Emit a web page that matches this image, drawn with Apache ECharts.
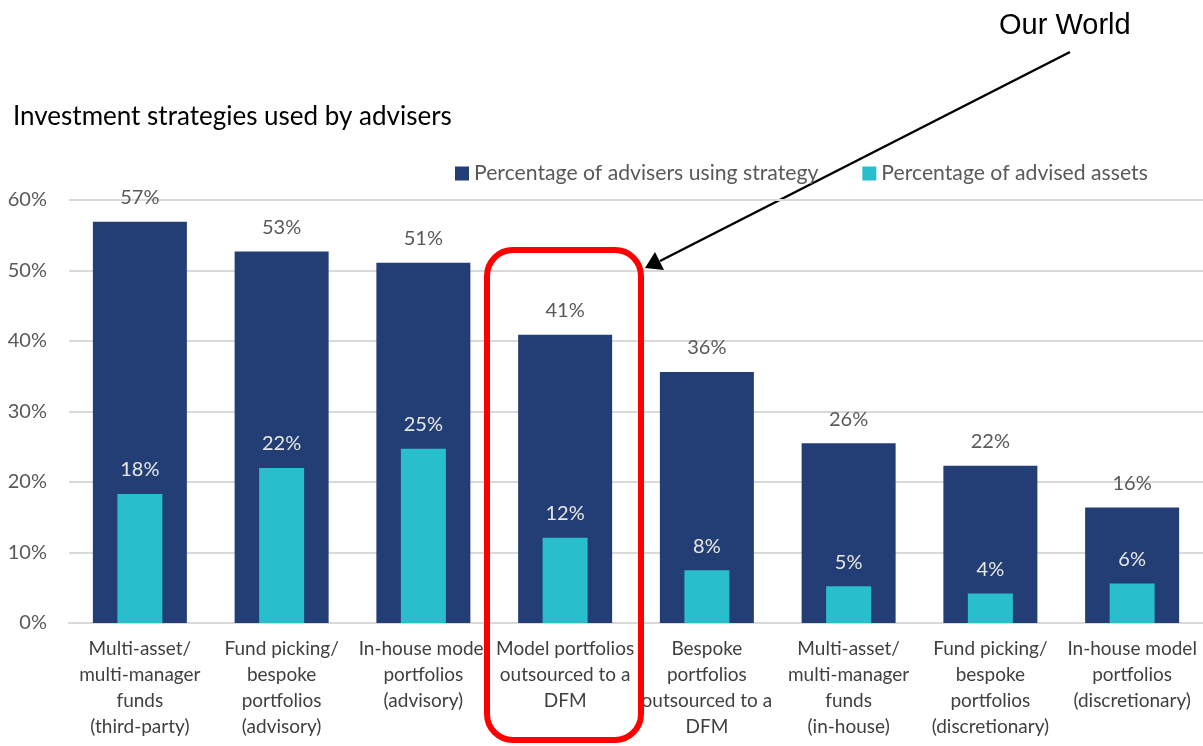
<!DOCTYPE html>
<html>
<head>
<meta charset="utf-8">
<script src="https://cdn.jsdelivr.net/npm/echarts@6/dist/echarts.min.js"></script>
<style>
html,body{margin:0;padding:0;background:#fff;}
#chart{width:1203px;height:746px;}
</style>
</head>
<body>
<div id="chart"></div>
<script>
const categories = [
  "Multi-asset/\nmulti-manager\nfunds\n(third-party)",
  "Fund picking/\nbespoke\nportfolios\n(advisory)",
  "In-house model\nportfolios\n(advisory)",
  "Model portfolios\noutsourced to a\nDFM",
  "Bespoke\nportfolios\noutsourced to a\nDFM",
  "Multi-asset/\nmulti-manager\nfunds\n(in-house)",
  "Fund picking/\nbespoke\nportfolios\n(discretionary)",
  "In-house model\nportfolios\n(discretionary)"
];
const advisersUsing = [56.9, 52.7, 51.1, 40.9, 35.6, 25.5, 22.3, 16.4];
const advisedAssets = [18.3, 22.0, 24.7, 12.1, 7.5, 5.2, 4.2, 5.6];
const seriesNames = ["Percentage of advisers using strategy", "Percentage of advised assets"];
const yTicks = [0, 10, 20, 30, 40, 50, 60];

const FONT = "Lato";
const chart = echarts.init(document.getElementById('chart'), null, {renderer: 'canvas'});
const pct = p => Math.round(p.value) + '%';

chart.setOption({
  animation: false,
  textStyle: {fontFamily: FONT},
  title: {
    text: "Investment strategies used by advisers",
    left: 8, top: 99,
    textStyle: {fontFamily: FONT, fontSize: 26, fontWeight: 'normal', color: '#000'}
  },
  legend: {
    left: 450, top: 158,
    icon: 'rect', itemWidth: 14, itemHeight: 14, itemGap: 44,
    textStyle: {fontFamily: FONT, fontSize: 21.2, color: '#595959'},
    data: seriesNames
  },
  grid: {left: 69, right: 0, top: 200, bottom: 123, containLabel: false},
  xAxis: [{
    type: 'category', data: categories,
    axisTick: {show: false},
    axisLine: {lineStyle: {color: '#d9d9d9', width: 2}},
    axisLabel: {interval: 0, fontFamily: FONT, fontSize: 19, color: '#404040', lineHeight: 26, margin: 13}
  }, {
    type: 'category', data: categories, show: false
  }],
  yAxis: {
    type: 'value', min: yTicks[0], max: yTicks[yTicks.length - 1], interval: 10,
    axisLine: {show: false}, axisTick: {show: false},
    splitLine: {lineStyle: {color: '#d9d9d9', width: 2}},
    axisLabel: {formatter: '{value}%', fontFamily: FONT, fontSize: 20, color: '#595959', margin: 22}
  },
  series: [{
    name: seriesNames[0], type: 'bar', xAxisIndex: 0, barWidth: 94,
    data: advisersUsing,
    itemStyle: {color: '#233E74'},
    label: {show: true, position: 'top', distance: 14, formatter: pct, fontFamily: FONT, fontSize: 20, color: '#595959'}
  }, {
    name: seriesNames[1], type: 'bar', xAxisIndex: 1, barWidth: 45,
    data: advisedAssets,
    itemStyle: {color: '#29BECB'},
    label: {show: true, position: 'top', distance: 14, formatter: pct, fontFamily: FONT, fontSize: 20, color: '#e8e8e8'}
  }],
  graphic: [
    {type: 'text', left: 999, top: 11, style: {text: 'Our World', font: '29px "Liberation Sans", Arial, sans-serif', fill: '#000'}},
    {type: 'line', shape: {x1: 1070, y1: 52, x2: 660, y2: 261}, style: {stroke: '#000', lineWidth: 2.5}},
    {type: 'polygon', shape: {points: [[645, 268], [655, 252], [664, 270]]}, style: {fill: '#000'}},
    {type: 'rect', shape: {x: 487, y: 250, width: 154, height: 490, r: 26}, style: {fill: 'none', stroke: '#ff0000', lineWidth: 6}, z: 100}
  ]
});
</script>
</body>
</html>
